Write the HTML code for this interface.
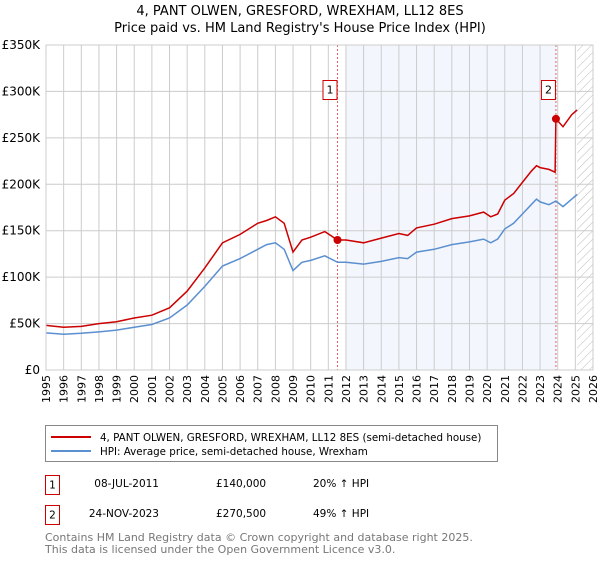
<!DOCTYPE html>
<html><head><meta charset="utf-8"><style>
body{margin:0;background:#fff;font-family:"DejaVu Sans","Liberation Sans",sans-serif;}
svg text{font-family:"DejaVu Sans","Liberation Sans",sans-serif;}
</style></head><body>
<svg id="chart" width="600" height="560" xmlns="http://www.w3.org/2000/svg">
<defs><pattern id="hatch" patternUnits="userSpaceOnUse" width="6" height="6" patternTransform="rotate(45)"><line x1="0" y1="0" x2="0" y2="6" stroke="#bbb" stroke-width="1"/></pattern></defs>
<text x="300" y="15" text-anchor="middle" font-size="13">4, PANT OLWEN, GRESFORD, WREXHAM, LL12 8ES</text>
<text x="300" y="32" text-anchor="middle" font-size="13">Price paid vs. HM Land Registry's House Price Index (HPI)</text>
<g id="plot"></g>
<g>
<rect x="45.5" y="425.5" width="452" height="36" fill="#fff" stroke="#888"/>
<line x1="51" y1="437" x2="91" y2="437" stroke="#cc0000" stroke-width="2"/>
<text x="100" y="441" font-size="10.3">4, PANT OLWEN, GRESFORD, WREXHAM, LL12 8ES (semi-detached house)</text>
<line x1="51" y1="451" x2="91" y2="451" stroke="#5b8fd0" stroke-width="2"/>
<text x="100" y="455" font-size="10.3">HPI: Average price, semi-detached house, Wrexham</text>
</g>
<g font-size="10.5">
<rect x="45.5" y="475.5" width="14" height="19" fill="#fff" stroke="#cc0000"/><text x="52.5" y="488.5" text-anchor="middle">1</text>
<text x="159" y="487" text-anchor="end">08-JUL-2011</text><text x="216" y="487">£140,000</text><text x="313" y="487">20% ↑ HPI</text>
<rect x="45.5" y="505.5" width="14" height="19" fill="#fff" stroke="#cc0000"/><text x="52.5" y="518.5" text-anchor="middle">2</text>
<text x="159" y="517" text-anchor="end">24-NOV-2023</text><text x="216" y="517">£270,500</text><text x="313" y="517">49% ↑ HPI</text>
</g>
<text x="45" y="541" font-size="11" fill="#777">Contains HM Land Registry data © Crown copyright and database right 2025.</text>
<text x="45" y="553" font-size="11" fill="#777">This data is licensed under the Open Government Licence v3.0.</text>
</svg>
<script>
const hpiYears=[1995,1996,1997,1998,1999,2000,2001,2002,2003,2004,2005,2006,2007,2007.5,2008,2008.5,2009,2009.5,2010,2010.8,2011.52,2012,2013,2014,2015,2015.5,2016,2017,2018,2019,2019.8,2020.2,2020.6,2021,2021.5,2022,2022.5,2022.8,2023,2023.5,2023.9,2024.3,2024.8,2025.1];
const hpiValues=[40,38.5,39.5,41,43,46,49,56,70,90,112,120,130,135,137,130,107,116,118,123,116,116,114,117,121,120,127,130,135,138,141,137,141,152,158,168,178,184,181,178,182,176,184,189];
const priceYears=[1995,1996,1997,1998,1999,2000,2001,2002,2003,2004,2005,2006,2007,2007.5,2008,2008.5,2009,2009.5,2010,2010.8,2011.52,2012,2013,2014,2015,2015.5,2016,2017,2018,2019,2019.8,2020.2,2020.6,2021,2021.5,2022,2022.5,2022.8,2023,2023.5,2023.85,2023.9,2024.3,2024.8,2025.1];
const priceValues=[48,46,47,50,52,56,59,67,85,110,137,146,158,161,165,158,127,140,143,149,140,140,137,142,147,145,153,157,163,166,170,165,168,183,190,202,214,220,218,216,213,270.5,262,275,280];
const saleYears=[2011.52,2023.9];
const saleValues=[140,270.5];
const saleLabels=["1","2"];
const yTicks=[0,50,100,150,200,250,300,350];
const yTickLabels=["£0","£50K","£100K","£150K","£200K","£250K","£300K","£350K"];
const xTicks=[1995,1996,1997,1998,1999,2000,2001,2002,2003,2004,2005,2006,2007,2008,2009,2010,2011,2012,2013,2014,2015,2016,2017,2018,2019,2020,2021,2022,2023,2024,2025,2026];

const L=46,R=593,T=45,B=370;
const xs=y=>L+(y-1995)/(2026-1995)*(R-L);
const ys=v=>B-v/350*(B-T);
const NS="http://www.w3.org/2000/svg";
const g=document.getElementById('plot');
function mk(tag,attrs,parent){const e=document.createElementNS(NS,tag);for(const k in attrs)e.setAttribute(k,attrs[k]);(parent||g).appendChild(e);return e;}
let e;
e=mk('rect',{x:xs(2012),y:T,width:xs(2023.9)-xs(2012),height:B-T,fill:'#eef3fc',opacity:0.7});


e=mk('rect',{x:xs(2025.1),y:T,width:R-xs(2025.1),height:B-T,fill:'url(#hatch)'});


xTicks.forEach(t=>{
 e=mk('line',{x1:xs(t),y1:T,x2:xs(t),y2:B,stroke:'#ccc','stroke-width':1});
 
 
 const x=xs(t)+4;
 e=mk('text',{x:x,y:B+5,'font-size':11,transform:`rotate(-90 ${x} ${B+5})`,'text-anchor':'end'});
 e.textContent=t;
 
 
});
yTicks.forEach((t,i)=>{
 e=mk('line',{x1:L,y1:ys(t),x2:R,y2:ys(t),stroke:'#ccc','stroke-width':1});
 
 
 e=mk('text',{x:L-6,y:ys(t)+4,'font-size':12,'text-anchor':'end'});
 e.textContent=yTickLabels[i];
 
 
});
saleYears.forEach((s,i)=>{
 e=mk('line',{x1:xs(s),y1:T,x2:xs(s),y2:B,stroke:'#e06060','stroke-width':1,'stroke-dasharray':'2,2'});
 
 
});
const pts=(X,Y)=>X.map((x,i)=>xs(x).toFixed(1)+','+ys(Y[i]).toFixed(1)).join(' ');
e=mk('polyline',{points:pts(hpiYears,hpiValues),fill:'none',stroke:'#5b8fd0','stroke-width':1.5});


e=mk('polyline',{points:pts(priceYears,priceValues),fill:'none',stroke:'#cc0000','stroke-width':1.5});


saleYears.forEach((s,i)=>{
 e=mk('circle',{cx:xs(s),cy:ys(saleValues[i]),r:4,fill:'#cc0000'});
 
 
 e=mk('rect',{x:xs(s)-14.5,y:80.5,width:14,height:19,fill:'#fff',stroke:'#cc0000'});
 
 
 e=mk('text',{x:xs(s)-7.5,y:93.5,'font-size':11,'text-anchor':'middle'});
 e.textContent=saleLabels[i];
 
 
});
e=mk('rect',{x:L,y:T,width:R-L,height:B-T,fill:'none',stroke:'#ccc'});


</script>
</body></html>
